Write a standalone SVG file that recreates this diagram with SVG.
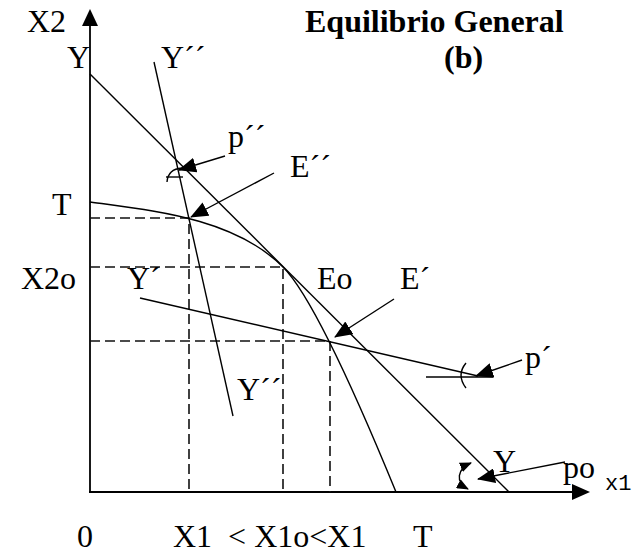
<svg xmlns="http://www.w3.org/2000/svg" width="640" height="558" viewBox="0 0 640 558">
<defs>
<style>
.ln{stroke:#000;stroke-width:1.4;fill:none}
.ax{stroke:#000;stroke-width:1.8;fill:none}
.d{stroke:#111;stroke-width:1.6;fill:none;stroke-dasharray:10 5}
.ar{stroke:#000;stroke-width:1.4;fill:none;marker-end:url(#ah)}
</style>
<marker id="ah" markerUnits="userSpaceOnUse" markerWidth="18" markerHeight="15" refX="17" refY="7.5" orient="auto" viewBox="0 0 18 15">
<path d="M0,0 L18,7.5 L0,15 z" fill="#000"/>
</marker>
<marker id="sh" markerUnits="userSpaceOnUse" markerWidth="12" markerHeight="10" refX="11" refY="5" orient="auto" viewBox="0 0 12 10">
<path d="M0,0 L12,5 L0,10 z" fill="#000"/>
</marker>
<marker id="shs" markerUnits="userSpaceOnUse" markerWidth="12" markerHeight="10" refX="1" refY="5" orient="auto" viewBox="0 0 12 10">
<path d="M12,0 L0,5 L12,10 z" fill="#000"/>
</marker>
</defs>
<g id="axes">
<line class="ax" x1="90" y1="24" x2="90" y2="493"/>
<path d="M90,9 L82,26 L98,26 z" fill="#000"/>
<line class="ax" x1="89" y1="492" x2="574" y2="492"/>
<path d="M590,492 L572,484 L572,500 z" fill="#000"/>
</g>
<g id="dashed">
<path class="d" d="M90,218 H189 V492"/>
<path class="d" d="M90,267 H283 V492"/>
<path class="d" d="M90,341 H330 V492"/>
</g>
<g id="curves">
<path id="frontier-T" class="ln" d="M90,202 C150,210.4 233,217 283,267 C318,302 375.5,442 396,492"/>
<line id="budget-Y" class="ln" x1="90" y1="74" x2="509" y2="492"/>
<line id="budget-Ypp" class="ln" x1="154" y1="62" x2="233" y2="416"/>
<line id="budget-Yp" class="ln" x1="140" y1="298" x2="478" y2="376"/>
</g>
<g id="connectors">
<line class="ar" x1="225" y1="156" x2="179" y2="170"/>
<line class="ar" x1="274" y1="173" x2="191" y2="217"/>
<line class="ar" x1="394" y1="299" x2="335" y2="337"/>
<line class="ar" x1="522" y1="360" x2="476" y2="376"/>
<line class="ar" x1="565" y1="462" x2="478" y2="479"/>
<path class="ln" d="M166,177 H183"/>
<path class="ln" d="M167,182 Q168,169 182,168"/>
<path class="ln" d="M426,377 H493"/>
<path class="ln" d="M466,363 Q456,375 466,388"/>
<path class="ln" d="M471,463 C457,469 455,482 468,489" marker-start="url(#shs)" marker-end="url(#sh)"/>
</g>
<g id="labels" font-family="Liberation Serif, Times New Roman, serif" font-size="32" fill="#000">
<text x="27" y="32">X2</text>
<text font-weight="bold" x="305" y="32">Equilibrio General</text>
<text font-weight="bold" x="444" y="68">(b)</text>
<text x="67" y="68">Y</text>
<text x="161" y="68">Y´´</text>
<text x="228" y="147">p´´</text>
<text x="290" y="177">E´´</text>
<text x="52" y="215">T</text>
<text x="21" y="289">X2o</text>
<text x="127" y="289">Y´</text>
<text x="317" y="289">Eo</text>
<text x="400" y="289">E´</text>
<text x="525" y="368">p´</text>
<text x="237" y="400">Y´´</text>
<text x="493" y="472">Y</text>
<text x="563" y="478">po</text>
<text font-family="Liberation Mono, Courier New, monospace" font-size="22" x="605" y="490">x1</text>
<text x="77" y="547">0</text>
<text x="173" y="547" xml:space="preserve">X1  &lt; X1o&lt;X1</text>
<text x="413" y="547">T</text>
</g>
</svg>
